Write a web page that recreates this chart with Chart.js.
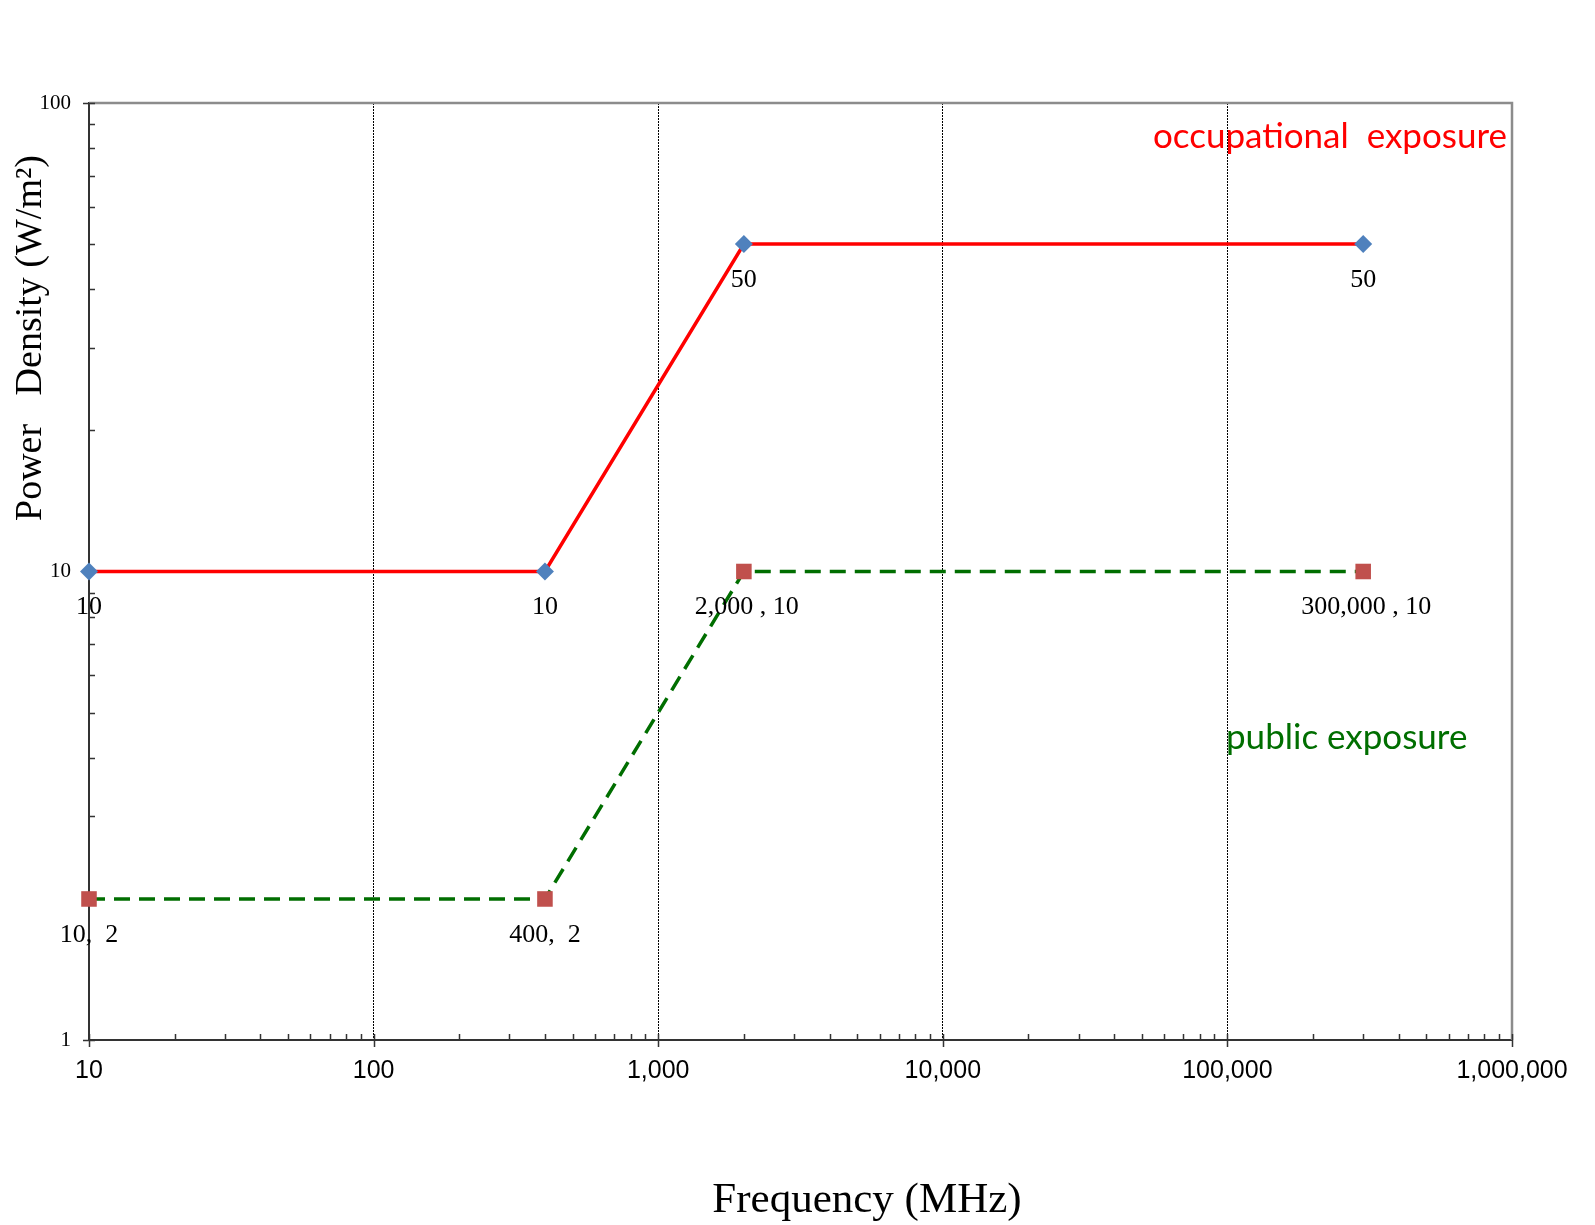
<!DOCTYPE html>
<html>
<head>
<meta charset="utf-8">
<title>Power density limits</title>
<script src="https://cdn.jsdelivr.net/npm/chart.js@4.4.1/dist/chart.umd.min.js"></script>
<style>
    html, body { margin: 0; padding: 0; background: #fff; }
    #wrap { width: 1595px; height: 1225px; }
</style>
</head>
<body>
<div id="wrap"><canvas id="rfChart" width="1595" height="1225"></canvas></div>
<script>
// frequency in MHz, power density in W/m2
const occFreq = [10, 400, 2000, 300000];
const occDensity = [10, 10, 50, 50];
const occLabels = ["10", "10", "50", "50"];

const pubFreq = [10, 400, 2000, 300000];
const pubDensity = [2, 2, 10, 10];
const pubLabels = ["10,  2", "400,  2", "2,000 , 10", "300,000 , 10"];

const xTickValues = [10, 100, 1000, 10000, 100000, 1000000];
const xTickLabels = ["10", "100", "1,000", "10,000", "100,000", "1,000,000"];
const yTickValues = [1, 10, 100];
const yTickLabels = ["1", "10", "100"];

const SERIF = "'Liberation Serif', 'Times New Roman', serif";
const SANS = "'Liberation Sans', Arial, sans-serif";
const NOTE = "Lato, 'Open Sans', sans-serif";

// 1..9 x 10^k between the axis ends, majors are the powers of ten
function decadeTicks(min, max, majors) {
    let out = [];
    for (let p = min; p < max; p *= 10) {
        for (let m = 1; m < 10; m++) {
            out.push({ value: m * p, major: majors.includes(m * p) });
        }
    }
    out.push({ value: max, major: true });
    return out;
}

function pickLabel(values, labels) {
    return function (value) {
        let i = values.indexOf(value);
        return i >= 0 ? labels[i] : "";
    };
}

const decor = {
    id: "decor",
    beforeDatasetsDraw(chart) {
        const { ctx, chartArea: a, scales: { x, y } } = chart;
        ctx.save();

        // grey frame on top and right
        ctx.strokeStyle = "#8c8c8c";
        ctx.lineWidth = 2.5;
        ctx.beginPath();
        ctx.moveTo(a.left, a.top);
        ctx.lineTo(a.right, a.top);
        ctx.lineTo(a.right, a.bottom);
        ctx.stroke();

        // tick marks, minor inside, major crossing
        ctx.strokeStyle = "#333";
        ctx.lineWidth = 1.5;
        ctx.beginPath();
        x.ticks.forEach(t => {
            let px = Math.round(x.getPixelForValue(t.value)) + 0.5;
            ctx.moveTo(px, a.bottom - 6);
            ctx.lineTo(px, a.bottom + (t.major ? 7 : 0));
        });
        y.ticks.forEach(t => {
            let py = Math.round(y.getPixelForValue(t.value)) + 0.5;
            ctx.moveTo(a.left - (t.major ? 6 : 0), py);
            ctx.lineTo(a.left + 6, py);
        });
        ctx.stroke();
        ctx.restore();
    },
    afterDatasetsDraw(chart) {
        const { ctx } = chart;
        ctx.save();
        ctx.fillStyle = "#000";
        ctx.font = "26px " + SERIF;
        ctx.textAlign = "center";
        ctx.textBaseline = "middle";

        let texts = [occLabels, pubLabels];
        texts.forEach((labels, ds) => {
            let meta = chart.getDatasetMeta(ds);
            meta.data.forEach((pt, i) => {
                ctx.fillText(labels[i], pt.x + (ds === 1 && i > 1 ? 3 : 0), pt.y + 36);
            });
        });

        // notes
        ctx.textBaseline = "alphabetic";
        ctx.textAlign = "right";
        ctx.font = "35px " + NOTE;
        ctx.fillStyle = "#FF0000";
        ctx.fillText("occupational  exposure", 1507, 148);
        ctx.textAlign = "left";
        ctx.fillStyle = "#006E00";
        ctx.fillText("public exposure", 1226, 749);

        // axis titles
        ctx.fillStyle = "#000";
        ctx.textAlign = "center";
        ctx.font = "43px " + SERIF;
        ctx.fillText("Frequency (MHz)", 867, 1212);

        ctx.translate(41, 338);
        ctx.rotate(-Math.PI / 2);
        ctx.font = "38px " + SERIF;
        ctx.fillText("Power   Density (W/m\u00B2)", 0, 0);
        ctx.restore();
    }
};

const ctx = document.getElementById("rfChart").getContext("2d");

new Chart(ctx, {
    type: "line",
    data: {
        datasets: [{
            label: "occupational exposure",
            data: occFreq.map((f, i) => ({ x: f, y: occDensity[i] })),
            borderColor: "#FF0000",
            borderWidth: 3.5,
            pointStyle: "rectRot",
            pointRadius: 9,
            pointBackgroundColor: "#4F81BD",
            pointBorderColor: "#4F81BD",
            pointBorderWidth: 0,
            tension: 0,
            clip: false
        }, {
            label: "public exposure",
            data: pubFreq.map((f, i) => ({ x: f, y: pubDensity[i] })),
            borderColor: "#006E00",
            borderWidth: 3.5,
            borderDash: [16, 9],
            pointStyle: "rect",
            pointRadius: 11,
            pointBackgroundColor: "#C0504D",
            pointBorderColor: "#C0504D",
            pointBorderWidth: 0,
            tension: 0,
            clip: false
        }]
    },
    options: {
        responsive: false,
        devicePixelRatio: 1,
        animation: false,
        layout: { padding: { top: 103, right: 83, left: 0, bottom: 0 } },
        plugins: {
            legend: { display: false },
            tooltip: { enabled: false }
        },
        scales: {
            x: {
                type: "logarithmic",
                min: 10,
                max: 1000000,
                afterFit: s => { s.height = 185; },
                afterBuildTicks: s => { s.ticks = decadeTicks(10, 1000000, xTickValues); },
                border: { display: true, color: "#333", width: 2, dash: [2, 1] },
                grid: {
                    lineWidth: 1,
                    color: c => (c.tick && c.tick.major && c.tick.value > 10 && c.tick.value < 1000000) ? "#000" : "rgba(0,0,0,0)",
                    drawTicks: true,
                    tickLength: 7,
                    tickColor: "rgba(0,0,0,0)"
                },
                ticks: {
                    autoSkip: false,
                    maxRotation: 0,
                    minRotation: 0,
                    padding: 9,
                    color: "#000",
                    font: { family: SANS, size: 25 },
                    callback: pickLabel(xTickValues, xTickLabels)
                }
            },
            y: {
                type: "logarithmic",
                min: 1,
                max: 100,
                afterFit: s => { s.width = 89; },
                afterBuildTicks: s => { s.ticks = decadeTicks(1, 100, yTickValues); },
                border: { display: true, color: "#333", width: 2 },
                grid: {
                    color: "rgba(0,0,0,0)",
                    drawTicks: true,
                    tickLength: 6,
                    tickColor: "rgba(0,0,0,0)"
                },
                ticks: {
                    autoSkip: false,
                    padding: 12,
                    color: "#000",
                    font: { family: SERIF, size: 21 },
                    callback: pickLabel(yTickValues, yTickLabels)
                }
            }
        }
    },
    plugins: [decor]
});
</script>
</body>
</html>
